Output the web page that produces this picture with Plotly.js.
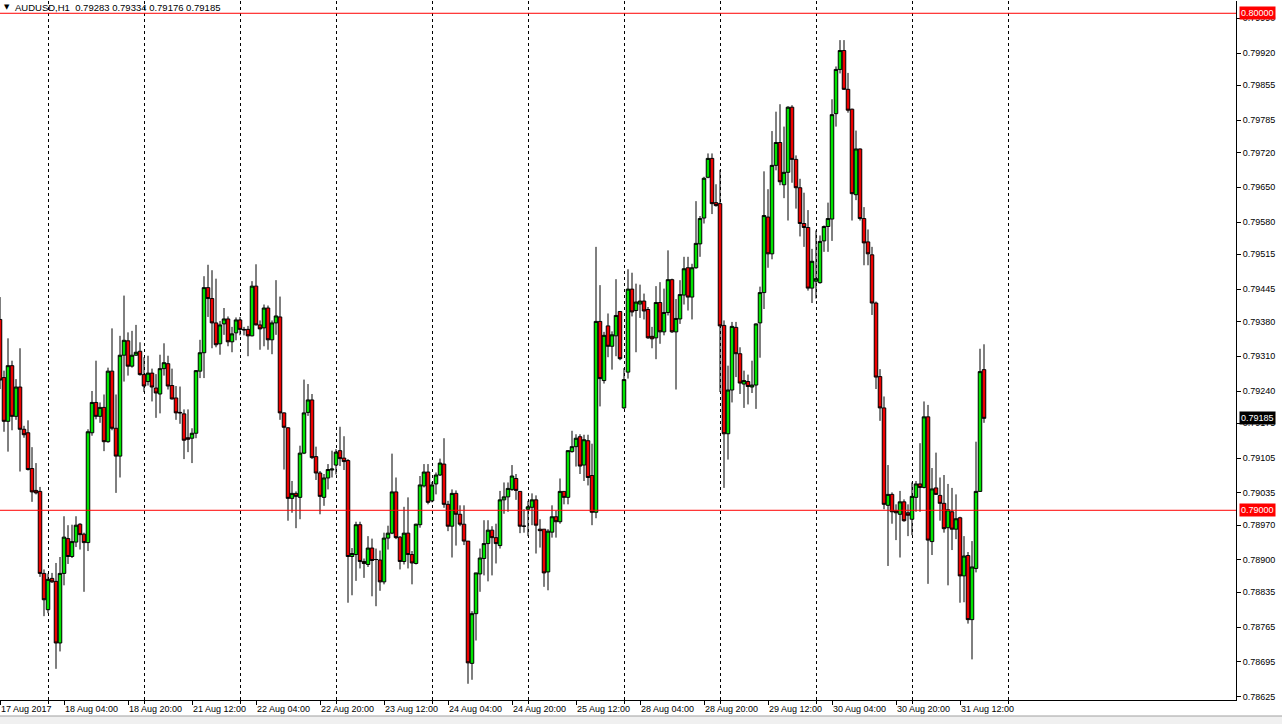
<!DOCTYPE html>
<html>
<head>
<meta charset="utf-8">
<script src="https://cdn.plot.ly/plotly-3.0.1.min.js"></script>
<style>
html,body{margin:0;padding:0;background:#fff;}
#chart{width:1282px;height:724px;}
</style>
</head>
<body>
<div id="chart"></div>
<script>
// AUDUSD H1, bars from 17 Aug 2017 12:00 to 31 Aug 2017 18:00
const symbol = "AUDUSD,H1";
const openP = [
0.79384,0.79267,0.79179,0.79291,0.79189,0.79248,0.79163,0.79156,0.79084,0.79040,
0.79038,0.78873,0.78800,0.78863,0.78857,0.78733,0.78873,0.78943,0.78907,0.78936,
0.78972,0.78952,0.78935,0.79156,0.79217,0.79189,0.79207,0.79138,0.79280,0.79165,
0.79109,0.79312,0.79341,0.79290,0.79312,0.79320,0.79273,0.79259,0.79276,0.79246,
0.79234,0.79285,0.79295,0.79251,0.79226,0.79197,0.79194,0.79146,0.79145,0.79155,
0.79280,0.79317,0.79448,0.79426,0.79377,0.79335,0.79375,0.79385,0.79339,0.79357,
0.79383,0.79364,0.79364,0.79351,0.79451,0.79373,0.79367,0.79407,0.79343,0.79377,
0.79389,0.79196,0.79166,0.79024,0.79034,0.79026,0.79115,0.79197,0.79222,0.79108,
0.79075,0.79026,0.79065,0.79081,0.79091,0.79120,0.79105,0.79100,0.78907,0.78911,
0.78971,0.78897,0.78891,0.78924,0.78901,0.78900,0.78856,0.78944,0.78954,0.79037,
0.78946,0.78897,0.78954,0.78911,0.78893,0.78971,0.79049,0.79077,0.79019,0.79053,
0.79071,0.79093,0.79012,0.78968,0.79034,0.78992,0.78972,0.78938,0.78692,0.78792,
0.78872,0.78903,0.78933,0.78960,0.78945,0.78929,0.79021,0.79027,0.79042,0.79064,
0.79038,0.78968,0.79002,0.79006,0.79021,0.78962,0.78962,0.78876,0.78956,0.78987,
0.78977,0.79038,0.79026,0.79118,0.79128,0.79148,0.79091,0.79140,0.79070,0.78996,
0.79380,0.79261,0.79371,0.79330,0.79351,0.79400,0.79206,0.79278,0.79445,0.79402,
0.79415,0.79421,0.79404,0.79350,0.79347,0.79418,0.79359,0.79398,0.79464,0.79359,
0.79385,0.79433,0.79488,0.79429,0.79488,0.79536,0.79588,0.79670,0.79708,0.79619,
0.79617,0.79372,0.79154,0.79242,0.79368,0.79315,0.79254,0.79259,0.79248,0.79252,
0.79377,0.79438,0.79590,0.79516,0.79694,0.79740,0.79655,0.79680,0.79811,0.79706,
0.79649,0.79577,0.79569,0.79447,0.79461,0.79458,0.79542,0.79571,0.79586,0.79798,
0.79887,0.79925,0.79847,0.79807,0.79635,0.79727,0.79587,0.79540,0.79514,0.79417,
0.79269,0.79206,0.79010,0.79032,0.78999,0.78992,0.79017,0.78995,0.78982,0.79026,
0.79053,0.79046,0.79188,0.78937,0.79045,0.79030,0.79014,0.78965,0.78997,0.78962,
0.78985,0.78868,0.78909,0.78780,0.78883,0.79038,0.79283];
const highP = [
0.79429,0.79281,0.79346,0.79301,0.79264,0.79326,0.79170,0.79181,0.79127,0.79095,
0.79047,0.78881,0.78873,0.78874,0.78894,0.78906,0.78988,0.78970,0.78971,0.78988,
0.78974,0.78955,0.79163,0.79240,0.79301,0.79217,0.79233,0.79287,0.79366,0.79233,
0.79351,0.79432,0.79358,0.79361,0.79373,0.79338,0.79308,0.79311,0.79285,0.79274,
0.79313,0.79336,0.79311,0.79285,0.79250,0.79249,0.79203,0.79203,0.79165,0.79282,
0.79343,0.79471,0.79494,0.79483,0.79466,0.79381,0.79407,0.79390,0.79369,0.79388,
0.79389,0.79369,0.79371,0.79461,0.79495,0.79382,0.79414,0.79412,0.79382,0.79463,
0.79430,0.79197,0.79167,0.79059,0.79038,0.79130,0.79263,0.79254,0.79234,0.79128,
0.79079,0.79073,0.79093,0.79120,0.79123,0.79168,0.79149,0.79103,0.78924,0.78977,
0.78977,0.78903,0.78948,0.78943,0.78923,0.78919,0.78955,0.78969,0.79114,0.79066,
0.78948,0.79007,0.79026,0.78918,0.78973,0.79069,0.79093,0.79093,0.79057,0.79076,
0.79104,0.79145,0.79019,0.79042,0.79040,0.79010,0.79010,0.78938,0.78797,0.78874,
0.78923,0.78980,0.78980,0.78968,0.78973,0.79039,0.79056,0.79056,0.79091,0.79073,
0.79038,0.79002,0.79019,0.79034,0.79030,0.78982,0.78962,0.78962,0.79010,0.78999,
0.79064,0.79038,0.79120,0.79160,0.79153,0.79153,0.79152,0.79152,0.79134,0.79530,
0.79453,0.79359,0.79396,0.79360,0.79465,0.79400,0.79286,0.79485,0.79478,0.79456,
0.79454,0.79436,0.79409,0.79369,0.79451,0.79459,0.79446,0.79523,0.79466,0.79425,
0.79463,0.79510,0.79510,0.79496,0.79622,0.79592,0.79671,0.79718,0.79718,0.79656,
0.79685,0.79382,0.79291,0.79379,0.79379,0.79328,0.79281,0.79273,0.79301,0.79376,
0.79450,0.79682,0.79646,0.79763,0.79802,0.79817,0.79772,0.79813,0.79815,0.79714,
0.79667,0.79639,0.79604,0.79526,0.79563,0.79553,0.79573,0.79619,0.79827,0.79893,
0.79946,0.79946,0.79880,0.79808,0.79764,0.79728,0.79610,0.79565,0.79530,0.79420,
0.79284,0.79229,0.79091,0.79036,0.79012,0.79039,0.79022,0.79012,0.79056,0.79059,
0.79135,0.79219,0.79212,0.79085,0.79116,0.79066,0.79071,0.79053,0.79045,0.79032,
0.78987,0.78948,0.78916,0.78938,0.79138,0.79325,0.79334];
const lowP = [
0.79244,0.79158,0.79118,0.79161,0.79182,0.79078,0.79146,0.79080,0.79017,0.79032,
0.78866,0.78787,0.78793,0.78854,0.78681,0.78716,0.78849,0.78892,0.78904,0.78926,
0.78921,0.78836,0.78918,0.79150,0.79183,0.79176,0.79119,0.79136,0.79161,0.79035,
0.79066,0.79259,0.79271,0.79287,0.79311,0.79271,0.79238,0.79251,0.79219,0.79186,
0.79195,0.79271,0.79243,0.79223,0.79182,0.79174,0.79103,0.79117,0.79095,0.79145,
0.79266,0.79266,0.79389,0.79326,0.79328,0.79313,0.79353,0.79330,0.79318,0.79342,
0.79352,0.79352,0.79310,0.79350,0.79372,0.79323,0.79330,0.79323,0.79314,0.79353,
0.79182,0.79082,0.78979,0.78995,0.78964,0.78982,0.79113,0.79190,0.79103,0.79061,
0.78992,0.79009,0.79042,0.79066,0.79072,0.79089,0.79081,0.78814,0.78829,0.78858,
0.78883,0.78864,0.78886,0.78827,0.78807,0.78838,0.78851,0.78921,0.78952,0.78942,
0.78881,0.78891,0.78883,0.78851,0.78891,0.78965,0.79046,0.79012,0.79016,0.79032,
0.79069,0.79005,0.78958,0.78905,0.78929,0.78968,0.78930,0.78651,0.78659,0.78738,
0.78836,0.78869,0.78857,0.78869,0.78893,0.78923,0.78993,0.78997,0.79039,0.79021,
0.78954,0.78955,0.78948,0.78970,0.78913,0.78925,0.78846,0.78839,0.78945,0.78945,
0.78973,0.79012,0.79012,0.79116,0.79088,0.79073,0.79059,0.79050,0.78970,0.78984,
0.79209,0.79255,0.79308,0.79283,0.79310,0.79302,0.79204,0.79265,0.79390,0.79318,
0.79387,0.79384,0.79345,0.79326,0.79304,0.79335,0.79352,0.79392,0.79357,0.79243,
0.79375,0.79414,0.79402,0.79384,0.79486,0.79510,0.79577,0.79668,0.79596,0.79611,
0.79238,0.79045,0.79102,0.79217,0.79268,0.79234,0.79206,0.79213,0.79236,0.79204,
0.79307,0.79405,0.79488,0.79505,0.79684,0.79654,0.79628,0.79583,0.79659,0.79607,
0.79551,0.79530,0.79442,0.79417,0.79426,0.79456,0.79520,0.79520,0.79542,0.79772,
0.79879,0.79846,0.79800,0.79583,0.79624,0.79583,0.79493,0.79493,0.79393,0.79244,
0.79180,0.79002,0.78888,0.78973,0.78940,0.78905,0.78977,0.78948,0.78950,0.78997,
0.78997,0.79044,0.78852,0.78910,0.79031,0.78979,0.78955,0.78849,0.78920,0.78942,
0.78814,0.78815,0.78772,0.78700,0.78875,0.79037,0.79176];
const closeP = [
0.79262,0.79179,0.79291,0.79189,0.79248,0.79163,0.79152,0.79082,0.79037,0.79035,
0.78873,0.78820,0.78861,0.78856,0.78733,0.78873,0.78946,0.78907,0.78937,0.78970,
0.78951,0.78935,0.79158,0.79217,0.79189,0.79207,0.79138,0.79280,0.79165,0.79109,
0.79312,0.79342,0.79290,0.79312,0.79318,0.79273,0.79250,0.79276,0.79248,0.79236,
0.79285,0.79297,0.79250,0.79224,0.79196,0.79196,0.79141,0.79143,0.79155,0.79281,
0.79317,0.79448,0.79426,0.79377,0.79333,0.79373,0.79385,0.79339,0.79355,0.79383,
0.79364,0.79363,0.79351,0.79451,0.79373,0.79365,0.79407,0.79343,0.79377,0.79391,
0.79196,0.79167,0.79024,0.79034,0.79028,0.79115,0.79196,0.79222,0.79106,0.79075,
0.79028,0.79065,0.79082,0.79083,0.79117,0.79104,0.79098,0.78907,0.78913,0.78971,
0.78897,0.78893,0.78924,0.78899,0.78901,0.78856,0.78944,0.78954,0.79037,0.78945,
0.78897,0.78954,0.78911,0.78894,0.78972,0.79051,0.79077,0.79016,0.79051,0.79071,
0.79095,0.79012,0.78968,0.79034,0.78992,0.78972,0.78938,0.78693,0.78792,0.78874,
0.78904,0.78933,0.78960,0.78945,0.78933,0.79021,0.79027,0.79044,0.79069,0.79040,
0.78968,0.78968,0.79007,0.79021,0.78970,0.78959,0.78874,0.78958,0.78987,0.78977,
0.79038,0.79026,0.79120,0.79128,0.79145,0.79089,0.79142,0.79066,0.78996,0.79380,
0.79265,0.79352,0.79330,0.79353,0.79392,0.79305,0.79263,0.79445,0.79399,0.79419,
0.79421,0.79401,0.79347,0.79345,0.79418,0.79359,0.79398,0.79464,0.79359,0.79386,
0.79434,0.79486,0.79429,0.79488,0.79537,0.79587,0.79668,0.79708,0.79617,0.79613,
0.79371,0.79154,0.79242,0.79370,0.79315,0.79256,0.79261,0.79249,0.79252,0.79375,
0.79438,0.79593,0.79516,0.79694,0.79740,0.79661,0.79680,0.79811,0.79706,0.79649,
0.79577,0.79569,0.79447,0.79501,0.79466,0.79541,0.79571,0.79587,0.79796,0.79887,
0.79925,0.79847,0.79805,0.79637,0.79727,0.79587,0.79538,0.79516,0.79417,0.79268,
0.79206,0.79012,0.79032,0.78997,0.78995,0.79017,0.78979,0.78990,0.79028,0.79053,
0.79046,0.79188,0.78940,0.79043,0.79032,0.79014,0.78963,0.79001,0.78962,0.78983,
0.78868,0.78908,0.78780,0.78886,0.79038,0.79279,0.79185];

// time axis labels (bar index -> label) and day separators (bar index)
const xTickPos = [0,16,32,48,64,80,96,112,128,144,160,176,192,208,224,240];
const xTickLabels = ["17 Aug 2017","18 Aug 04:00","18 Aug 20:00","21 Aug 12:00","22 Aug 04:00",
  "22 Aug 20:00","23 Aug 12:00","24 Aug 04:00","24 Aug 20:00","25 Aug 12:00","28 Aug 04:00",
  "28 Aug 20:00","29 Aug 12:00","30 Aug 04:00","30 Aug 20:00","31 Aug 12:00"];
const daySeparators = [12,36,60,84,108,132,156,180,204,228,252];

// price axis
const yTicks = [0.79990,0.79920,0.79855,0.79785,0.79720,0.79650,0.79580,0.79515,0.79445,0.79380,
  0.79310,0.79240,0.79175,0.79105,0.79035,0.78970,0.78900,0.78835,0.78765,0.78695,0.78625];
const levels = [0.80000, 0.79000];

const barIdx = openP.map((_, i) => i);
const last = openP.length - 1;
const fmt = v => v.toFixed(5);

const trace = {
  type: 'candlestick',
  x: barIdx, open: openP, high: highP, low: lowP, close: closeP,
  increasing: {line: {color: '#000000', width: 1}, fillcolor: '#00e400'},
  decreasing: {line: {color: '#000000', width: 1}, fillcolor: '#ee0000'},
  whiskerwidth: 0,
  hoverinfo: 'skip',
  showlegend: false
};

const font = {family: 'Liberation Sans, Arial, sans-serif', size: 9, color: '#000'};

const shapes = levels.map(v => ({
  type: 'line', xref: 'paper', x0: 0, x1: 1, yref: 'y', y0: v, y1: v,
  line: {color: '#ff0000', width: 1}
}));
// bottom status strip (paper coords; plot area spans pixels 0..1236 x 1..700)
const pxX = p => p / 1236;
const pxY = p => (700 - p) / 699;
shapes.push({type: 'rect', xref: 'paper', yref: 'paper', x0: pxX(0), x1: pxX(1282), y0: pxY(716), y1: pxY(724),
  fillcolor: '#f0f0f0', line: {width: 0}, layer: 'below'});
shapes.push({type: 'line', xref: 'paper', yref: 'paper', x0: pxX(0), x1: pxX(1282), y0: pxY(716), y1: pxY(716),
  line: {color: '#a0a0a0', width: 1}});

const annotations = [
  {xref: 'paper', yref: 'paper', x: 0, y: 1, xanchor: 'left', yanchor: 'top', xshift: 2, yshift: 0,
   text: '\u25BC', showarrow: false, font: {family: 'DejaVu Sans', size: 7, color: '#000'}},
  {xref: 'paper', yref: 'paper', x: 0, y: 1, xanchor: 'left', yanchor: 'top', xshift: 13, yshift: 1,
   text: symbol + '  ' + [openP[last], highP[last], lowP[last], closeP[last]].map(fmt).join(' '),
   showarrow: false, font: {family: 'Liberation Sans, Arial, sans-serif', size: 9.5, color: '#000'}},
];
levels.forEach(v => annotations.push({
  xref: 'paper', yref: 'y', x: 1, y: v, xanchor: 'left', yanchor: 'middle', xshift: 3,
  text: fmt(v), showarrow: false, bgcolor: '#ff0000', borderpad: 1,
  font: {family: 'Liberation Sans, Arial, sans-serif', size: 9, color: '#ffffff'}
}));
annotations.push({
  xref: 'paper', yref: 'y', x: 1, y: closeP[last], xanchor: 'left', yanchor: 'middle', xshift: 3,
  text: fmt(closeP[last]), showarrow: false, bgcolor: '#000000', borderpad: 1,
  font: {family: 'Liberation Sans, Arial, sans-serif', size: 9, color: '#ffffff'}
});

const layout = {
  width: 1282, height: 724,
  margin: {l: 0, r: 46, t: 1, b: 24, pad: 0},
  paper_bgcolor: '#ffffff', plot_bgcolor: '#ffffff',
  font: font,
  showlegend: false,
  boxgap: 0.12,
  boxgroupgap: 0,
  dragmode: false,
  xaxis: {
    type: 'linear', range: [0, 309], fixedrange: true,
    rangeslider: {visible: false},
    showgrid: false, zeroline: false,
    showline: true, linecolor: '#000', linewidth: 1,
    tickmode: 'array', tickvals: xTickPos, ticktext: xTickLabels,
    ticks: 'outside', ticklen: 4, tickcolor: '#000',
    ticklabelposition: 'outside right',
    tickfont: font,
    minor: {tickmode: 'array', tickvals: daySeparators, showgrid: true, gridcolor: '#000000',
            gridwidth: 1, griddash: '3px,3px', ticks: 'outside', ticklen: 3, tickcolor: '#000'}
  },
  yaxis: {
    type: 'linear', side: 'right', range: [0.786183, 0.800247], fixedrange: true,
    showgrid: false, zeroline: false,
    showline: true, linecolor: '#000', linewidth: 1,
    tickmode: 'array', tickvals: yTicks, ticktext: yTicks.map(fmt),
    ticks: 'outside', ticklen: 4, tickcolor: '#000',
    tickfont: font
  },
  shapes: shapes,
  annotations: annotations
};

Plotly.newPlot('chart', [trace], layout, {displayModeBar: false, staticPlot: true});
</script>
</body>
</html>
